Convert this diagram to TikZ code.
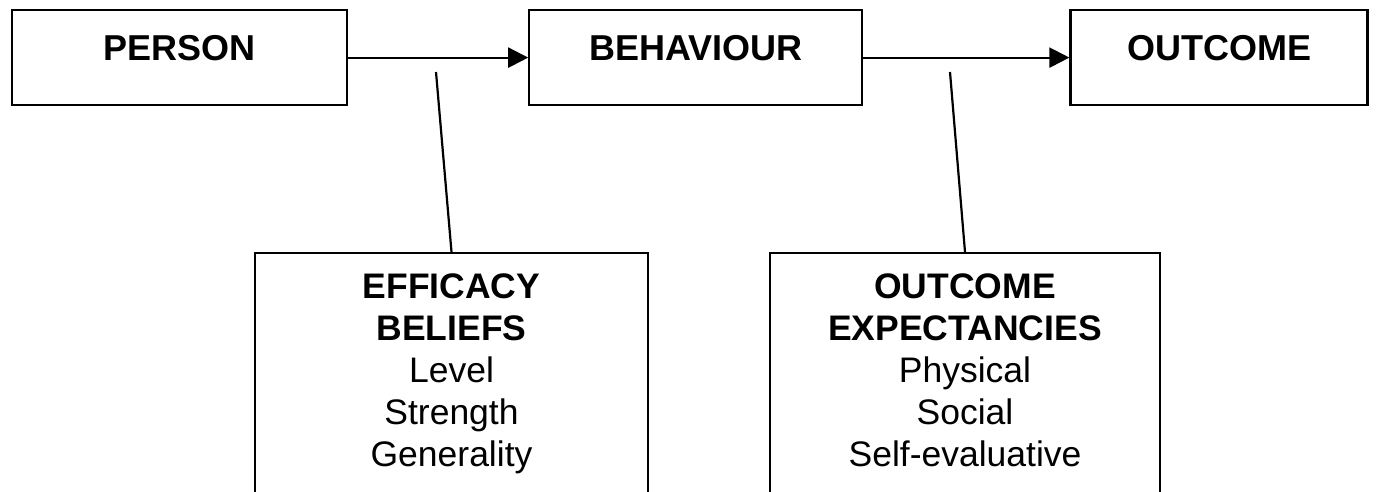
\documentclass[tikz,border=0pt]{standalone}
\usepackage{fontspec}
\setmainfont{Liberation Sans}
\usetikzlibrary{arrows.meta}
\usetikzlibrary{positioning}

\begin{document}
\begin{tikzpicture}[x=1pt, y=-1pt, line width=2.2pt]
        \tikzset{
          >={Triangle[length=20pt, width=20pt]},
          topbox/.style={
            draw,
            inner sep = 0pt,
            text height = 50pt,
            text depth = 45pt,
            font=\fontsize{36}{43}\selectfont\bfseries,
          },
          lowbox/.style={
            draw,
            minimum height = 320pt,
            anchor=north,
          },
          lowtext/.style={
            inner sep = 0pt,
            align=center,
            font=\fontsize{35.5}{42}\selectfont,
          },
        }
        \useasboundingbox (0,0) rectangle (1379,491);
        \clip (0,0) rectangle (1379,491);
        \node[topbox, minimum width=335pt, anchor=north west] (person) at (11,9) {PERSON};
        \node[topbox, minimum width=333pt, right=180pt of person] (behaviour) {BEHAVIOUR};
        \node[topbox, minimum width=297pt, right=206pt of behaviour] (outcome) {OUTCOME};
        \node[lowbox, minimum width=393pt] (efficacy) at (451.5,252) {};
        \node[lowbox, minimum width=390pt] (expect) at (965,252) {};
        \node[lowtext, below=21pt of efficacy.north] (efftext)
          {\textbf{EFFICACY}\\\textbf{BELIEFS}\\Level\\Strength\\Generality};
        \node[lowtext, below=20.5pt of expect.north] (exptext)
          {\textbf{OUTCOME}\\\textbf{EXPECTANCIES}\\Physical\\Social\\Self-evaluative};
        \coordinate (from1) at (436,72);
        \coordinate (from2) at (950,72);
        \draw[->]
          (person) -- (behaviour);
        \draw[->]
          (behaviour) -- (outcome);
        \draw (from1) -- (efficacy.north);
        \draw (from2) -- (expect.north);
      \end{tikzpicture}
\end{document}
